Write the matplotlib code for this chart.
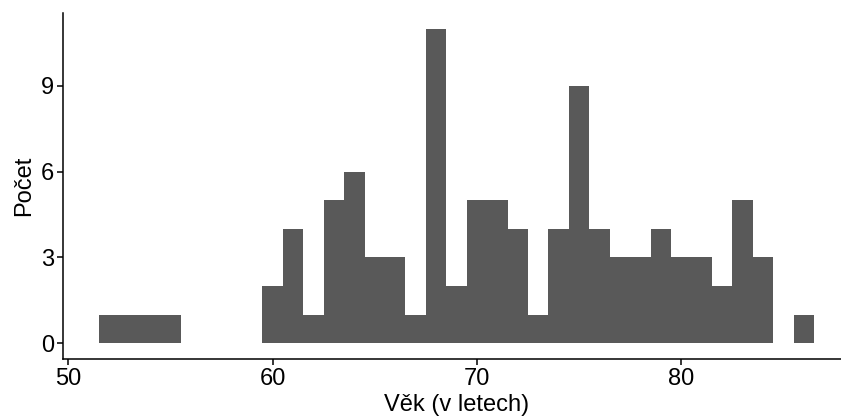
import matplotlib.pyplot as plt

# age bins (width 1, centred on whole years) and counts
ages = [52, 53, 54, 55, 60, 61, 62, 63, 64, 65, 66, 67, 68, 69, 70, 71, 72,
        73, 74, 75, 76, 77, 78, 79, 80, 81, 82, 83, 84, 86]
counts = [1, 1, 1, 1, 2, 4, 1, 5, 6, 3, 3, 1, 11, 2, 5, 5, 4,
          1, 4, 9, 4, 3, 3, 4, 3, 3, 2, 5, 3, 1]
x_ticks = [50, 60, 70, 80]
y_ticks = [0, 3, 6, 9]

plt.rcParams['font.family'] = ['Liberation Sans', 'DejaVu Sans']

fig = plt.figure(figsize=(8.41, 4.2), dpi=100)
ax = fig.add_axes([63 / 841, 1 - 359 / 420, (850 - 63) / 841, (359 - 13) / 420])

ax.bar(ages, counts, width=1.0, color='#595959', align='center', linewidth=0)

ax.set_xlim(49.75, 88.25)
ax.set_ylim(-0.55, 11.55)
ax.set_xticks(x_ticks)
ax.set_yticks(y_ticks)

for side in ['top', 'right']:
    ax.spines[side].set_visible(False)
for side in ['left', 'bottom']:
    ax.spines[side].set_linewidth(1.1)
    ax.spines[side].set_color('black')

ax.tick_params(axis='both', labelsize=17, length=4, width=1.1, pad=2.5, colors='black')
ax.set_xlabel('Věk (v letech)', fontsize=17, labelpad=3)
ax.set_ylabel('Počet', fontsize=17, labelpad=4)

fig.savefig('out.png', dpi=100)
